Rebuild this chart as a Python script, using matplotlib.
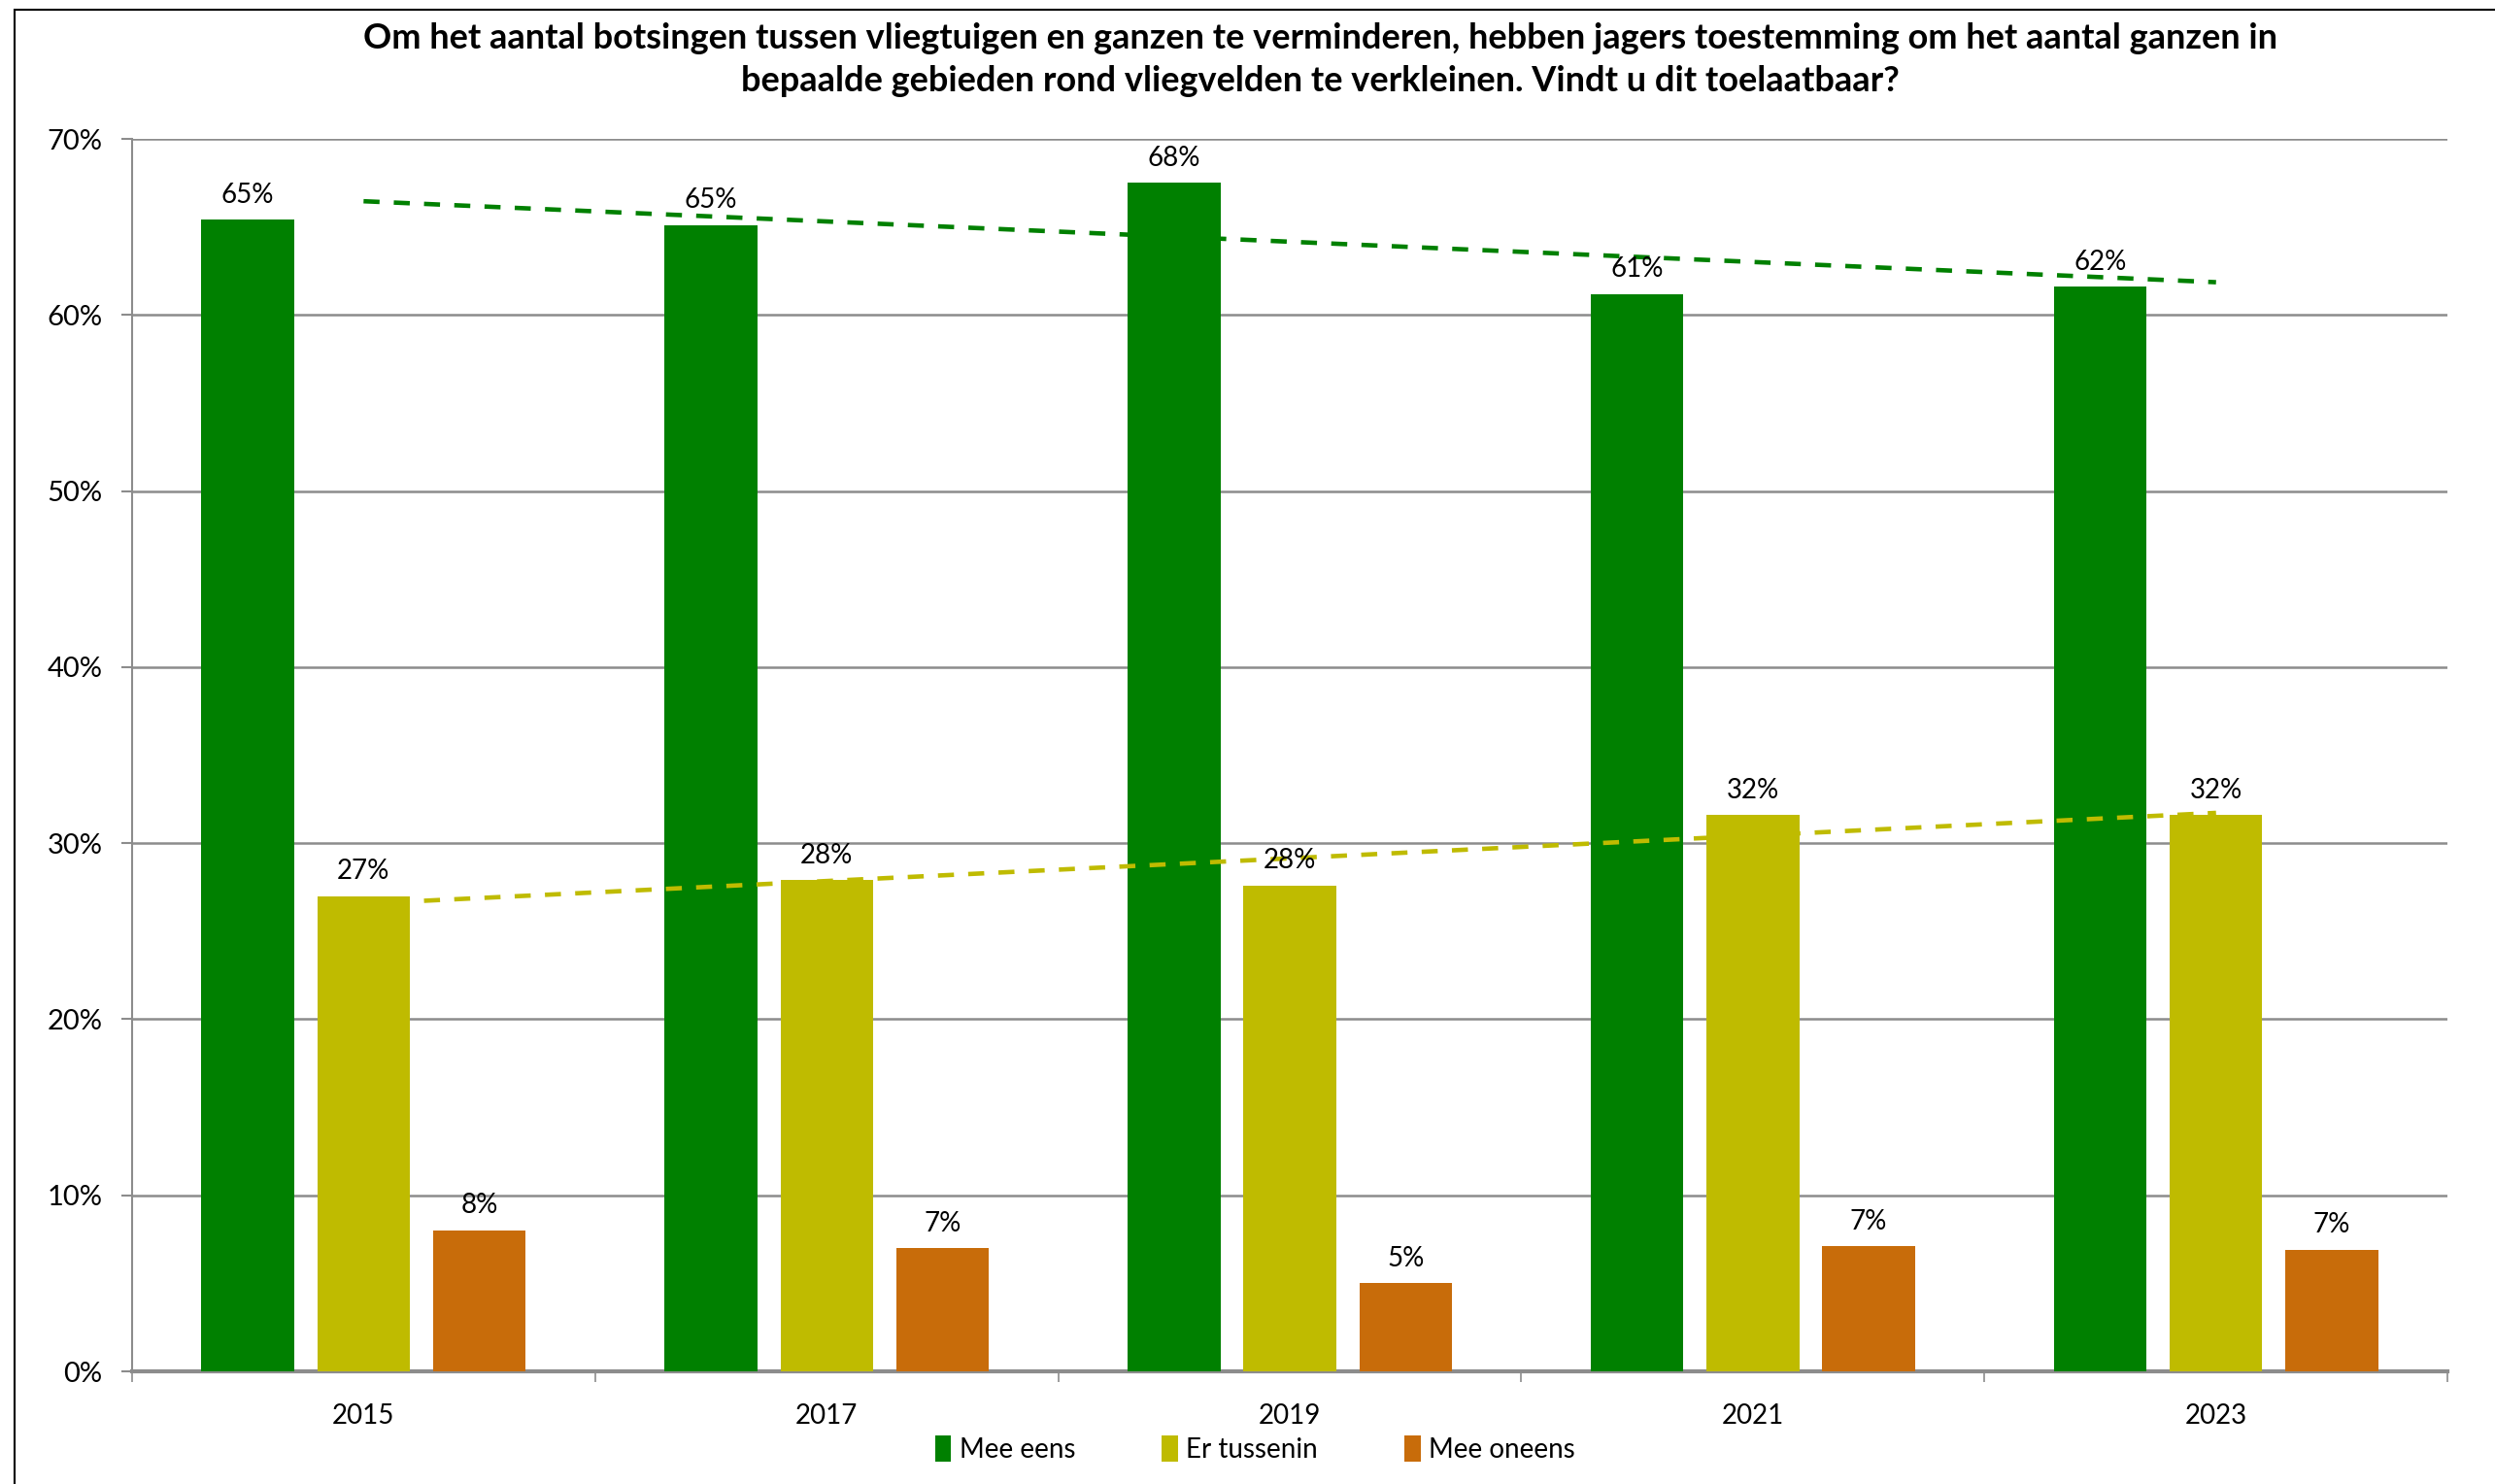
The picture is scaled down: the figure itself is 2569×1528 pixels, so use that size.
import numpy as np
import matplotlib
matplotlib.use("Agg")
import matplotlib.pyplot as plt
from matplotlib.patches import Rectangle

plt.rcParams['font.family'] = ['Lato', 'DejaVu Sans']

years = ["2015", "2017", "2019", "2021", "2023"]
series = ["Mee eens", "Er tussenin", "Mee oneens"]
mee_eens = [65.4, 65.1, 67.5, 61.2, 61.6]
er_tussenin = [27.0, 27.9, 27.6, 31.6, 31.6]
mee_oneens = [8.0, 7.0, 5.0, 7.1, 6.9]
colors = ["#008000", "#BFBB00", "#C86C0A"]
title = ("Om het aantal botsingen tussen vliegtuigen en ganzen te verminderen, hebben jagers toestemming om het aantal ganzen in\n"
         "bepaalde gebieden rond vliegvelden te verkleinen. Vindt u dit toelaatbaar?")

fig = plt.figure(figsize=(25.69, 15.28), dpi=100)
ax = fig.add_axes([0.0529, 0.0759, 0.9281, 0.8305])

x = np.arange(len(years))
width = 0.2
offsets = [-0.25, 0, 0.25]
all_vals = [mee_eens, er_tussenin, mee_oneens]
for vals, off, col, name in zip(all_vals, offsets, colors, series):
    bars = ax.bar(x + off, vals, width, color=col, label=name, zorder=3)
    for b, v in zip(bars, vals):
        ax.annotate("%.0f%%" % v, (b.get_x() + b.get_width() / 2, v),
                    xytext=(0, 9), textcoords="offset points",
                    ha="center", va="bottom", fontsize=20, zorder=5)

# linear trendlines like in excel
for vals, col in [(mee_eens, colors[0]), (er_tussenin, colors[1])]:
    k, m = np.polyfit(x, vals, 1)
    ax.plot(x, k * x + m, color=col, lw=3.3, linestyle=(0, (3.6, 3.2)), zorder=4)

ax.set_xlim(-0.5, len(years) - 0.5)
ax.set_ylim(0, 70)
ax.set_yticks(np.arange(0, 71, 10))
ax.set_yticklabels(["%d%%" % t for t in range(0, 71, 10)], fontsize=21)
ax.set_xticks(x)
ax.set_xticklabels(years, fontsize=20)
ax.set_xticks(np.arange(-0.5, len(years), 1), minor=True)
ax.tick_params(axis="x", which="major", length=0, pad=24)
ax.tick_params(axis="x", which="minor", length=8, width=1.2, color="#8c8c8c")
ax.tick_params(axis="y", length=8, width=1.5, color="#8c8c8c", pad=14)
ax.grid(axis="y", color="#8c8c8c", lw=1.8, zorder=0)
for s in ["top", "right"]:
    ax.spines[s].set_visible(False)
ax.spines["left"].set_color("#8c8c8c")
ax.spines["left"].set_linewidth(1.5)
ax.spines["bottom"].set_color("#8c8c8c")
ax.spines["bottom"].set_linewidth(3)

fig.text(0.529, 0.960, title, ha="center", va="center", fontsize=26,
         fontweight="bold", linespacing=1.4)

fig.legend(loc="center", bbox_to_anchor=(0.503, 1 - 1492 / 1528), ncol=3,
           frameon=False, fontsize=20, handlelength=0.6, handleheight=1.1,
           handletextpad=0.3, columnspacing=3.2)

# chart border
fig.patches.append(Rectangle((15 / 2569, -0.01), 1.1, 1 - 10 / 1528 + 0.01,
                             transform=fig.transFigure, fill=False,
                             edgecolor="black", lw=1.5))

plt.savefig("out.png", dpi=100)
